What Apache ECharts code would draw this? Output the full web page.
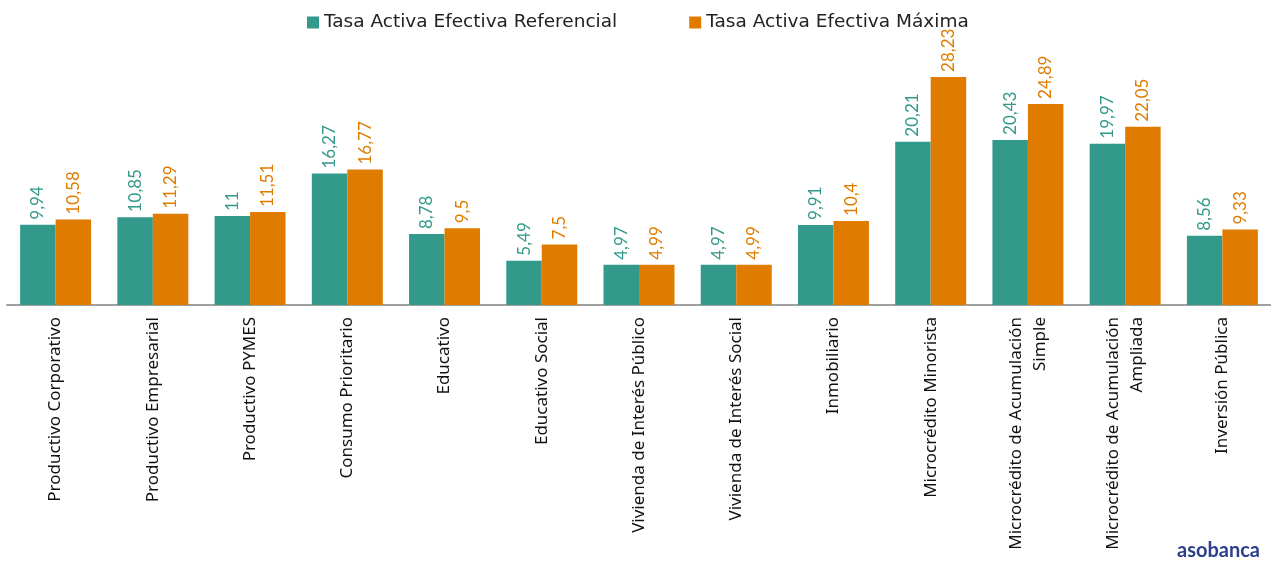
<!DOCTYPE html>
<html><head><meta charset="utf-8">
<script src="https://cdn.jsdelivr.net/npm/echarts@6/dist/echarts.min.js"></script>
<style>html,body{margin:0;padding:0;background:#fff}#c{width:1271px;height:565px}</style>
</head><body><div id="c"></div>
<script>
const categories = ["Productivo Corporativo","Productivo Empresarial","Productivo PYMES","Consumo Prioritario","Educativo","Educativo Social","Vivienda de Interés Público","Vivienda de Interés Social","Inmobiliario","Microcrédito Minorista","Microcrédito de Acumulación\nSimple","Microcrédito de Acumulación\nAmpliada","Inversión Pública"];
const referencial = [9.94,10.85,11,16.27,8.78,5.49,4.97,4.97,9.91,20.21,20.43,19.97,8.56];
const maxima = [10.58,11.29,11.51,16.77,9.5,7.5,4.99,4.99,10.4,28.23,24.89,22.05,9.33];
const seriesNames = ["Tasa Activa Efectiva Referencial","Tasa Activa Efectiva Máxima"];
const colors = ["#33998b","#df7c00"];
const fmt = p => String(p.value).replace('.', ',');
const chart = echarts.init(document.getElementById('c'));
const mk = (name, data, color) => ({
  name, type:'bar', data, barGap:'0%', barCategoryGap:'27%',
  itemStyle:{color},
  label:{show:true, position:'top', rotate:90, align:'left', verticalAlign:'middle', distance:5,
    color, fontFamily:'Lato', fontSize:17, formatter:fmt}
});
chart.setOption({
  animation:false,
  textStyle:{fontFamily:'Noto Sans'},
  legend:{top:8, left:302, itemGap:72, itemWidth:12, itemHeight:12, icon:'rect', itemStyle:{borderWidth:0},
    textStyle:{fontFamily:'DejaVu Sans', fontSize:18.5, color:'#222'}},
  grid:{left:7, right:0, top:62.6, bottom:260},
  xAxis:{type:'category', data:categories,
    axisLine:{lineStyle:{color:'#a0a0a0', width:2}}, axisTick:{show:false},
    axisLabel:{rotate:90, interval:0, fontSize:17, color:'#111', fontFamily:'Noto Sans', margin:12, align:'right', lineHeight:24}},
  yAxis:{type:'value', min:0, max:30, show:false, splitLine:{show:false}},
  series:[mk(seriesNames[0], referencial, colors[0]), mk(seriesNames[1], maxima, colors[1])],
  graphic:[{type:'text', right:11, bottom:4, style:{text:'asobanca', fontFamily:'Lato', fontSize:20, fontWeight:'bold', fill:'#2b3f8c'}}]
});
</script></body></html>
